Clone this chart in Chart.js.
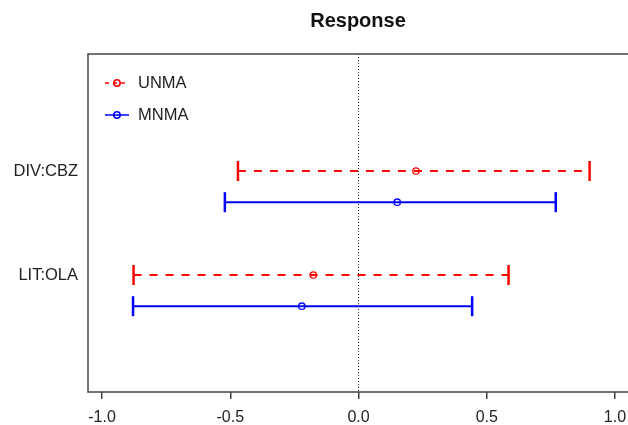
<!DOCTYPE html>
<html>
<head>
<meta charset="utf-8">
<script src="https://cdn.jsdelivr.net/npm/chart.js@4/dist/chart.umd.min.js"></script>
<style>
  html, body { margin: 0; padding: 0; background: #fff; overflow: hidden; }
  canvas { display: block; }
</style>
</head>
<body>
<canvas id="grafico" width="628" height="425" style="width:628px;height:425px"></canvas>
<script>
// datos
const categorias = ["DIV:CBZ", "LIT:OLA"];
const series = ["UNMA", "MNMA"];
const unmaEst = [0.224, -0.176];
const unmaLo = [-0.470, -0.877];
const unmaHi = [0.901, 0.585];
const mnmaEst = [0.151, -0.221];
const mnmaLo = [-0.521, -0.879];
const mnmaHi = [0.769, 0.443];
const xTicks = [-1.0, -0.5, 0.0, 0.5, 1.0];
const titulo = "Response";

const FUENTE = "Arial, 'Liberation Sans', sans-serif";
const colores = { UNMA: "#ff0000", MNMA: "#0000ff" };
const desplazamiento = { UNMA: 0, MNMA: 0.3 }; // separacion vertical dentro del grupo

function intervalos(nombre, lo, hi, est) {
  const ds = [];
  categorias.forEach((c, i) => {
    const y = i + 1 + desplazamiento[nombre];
    ds.push({
      type: "line",
      data: [{ x: lo[i], y: y }, { x: hi[i], y: y }],
      borderColor: colores[nombre],
      borderWidth: 2,
      borderDash: nombre === "UNMA" ? [8, 8] : [],
      pointStyle: "line",
      pointRotation: 90,
      pointRadius: 10,
      pointBorderWidth: 2.5,
      pointBorderColor: colores[nombre],
      pointHoverRadius: 10,
    });
    ds.push({
      type: "scatter",
      data: [{ x: est[i], y: y }],
      borderColor: colores[nombre],
      backgroundColor: "transparent",
      pointRadius: 3.2,
      pointBorderWidth: 1.3,
    });
  });
  return ds;
}

// caja del grafico (el borde derecho queda fuera de la imagen), linea punteada en cero y leyenda
const extras = {
  id: "extras",
  beforeDatasetsDraw(chart) {
    const { ctx, chartArea: a, scales } = chart;
    const x0 = scales.x.getPixelForValue(0);
    ctx.save();
    ctx.strokeStyle = "#222";
    ctx.lineWidth = 1;
    ctx.setLineDash([1, 2]);
    ctx.beginPath();
    ctx.moveTo(x0, a.top);
    ctx.lineTo(x0, a.bottom);
    ctx.stroke();
    ctx.restore();
  },
  afterDraw(chart) {
    const { ctx, chartArea: a } = chart;
    ctx.save();
    ctx.strokeStyle = "#444";
    ctx.lineWidth = 1.5;
    ctx.beginPath();
    ctx.moveTo(a.right + 5, a.top);
    ctx.lineTo(a.left, a.top);
    ctx.lineTo(a.left, a.bottom);
    ctx.lineTo(a.right + 5, a.bottom);
    ctx.stroke();

    // leyenda
    const ys = [83, 115];
    series.forEach((s, i) => {
      const y = ys[i];
      ctx.strokeStyle = colores[s];
      ctx.lineWidth = 1.5;
      ctx.setLineDash(s === "UNMA" ? [4, 4] : []);
      ctx.beginPath();
      ctx.moveTo(105, y);
      ctx.lineTo(129, y);
      ctx.stroke();
      ctx.setLineDash([]);
      ctx.beginPath();
      ctx.arc(117, y, 3.2, 0, Math.PI * 2);
      ctx.stroke();
      ctx.fillStyle = "#222";
      ctx.font = "16.5px " + FUENTE;
      ctx.textBaseline = "middle";
      ctx.textAlign = "left";
      ctx.fillText(s, 138, y);
    });
    ctx.restore();
  },
};

const ctx = document.getElementById("grafico").getContext("2d");
const grafico = new Chart(ctx, {
  data: {
    datasets: [
      ...intervalos("UNMA", unmaLo, unmaHi, unmaEst),
      ...intervalos("MNMA", mnmaLo, mnmaHi, mnmaEst),
    ],
  },
  options: {
    responsive: false,
    animation: false,
    devicePixelRatio: 1,
    layout: { autoPadding: false, padding: 0 },
    plugins: {
      legend: { display: false },
      tooltip: { enabled: false },
      title: {
        display: true,
        text: titulo,
        fullSize: false,
        color: "#111",
        font: { family: FUENTE, size: 20, weight: "bold", lineHeight: 1.2 },
        padding: { top: 9, bottom: 21 },
      },
    },
    scales: {
      x: {
        type: "linear",
        min: -1.0546,
        max: 1.0507,
        afterBuildTicks: (eje) => { eje.ticks = xTicks.map((v) => ({ value: v })); },
        afterFit: (eje) => {
          eje.height = 33;
          eje.paddingLeft = 0;
          eje.paddingRight = 0;
        },
        border: { display: false },
        grid: {
          display: true,
          drawOnChartArea: false,
          drawTicks: true,
          tickLength: 7,
          color: "#444",
          lineWidth: 1.5,
        },
        ticks: {
          autoSkip: false,
          maxRotation: 0,
          padding: 9,
          color: "#222",
          font: { family: FUENTE, size: 16 },
          callback: (v) => v.toFixed(1),
        },
      },
      y: {
        type: "linear",
        reverse: true,
        min: -0.125,
        max: 3.125,
        afterBuildTicks: (eje) => { eje.ticks = categorias.map((c, i) => ({ value: i + 1 })); },
        afterFit: (eje) => { eje.width = 88; },
        border: { display: false },
        grid: { display: false, drawTicks: false },
        ticks: {
          padding: 10,
          color: "#222",
          font: { family: FUENTE, size: 16.5 },
          callback: (v) => categorias[v - 1],
        },
      },
    },
  },
  plugins: [extras],
});
</script>
</body>
</html>
